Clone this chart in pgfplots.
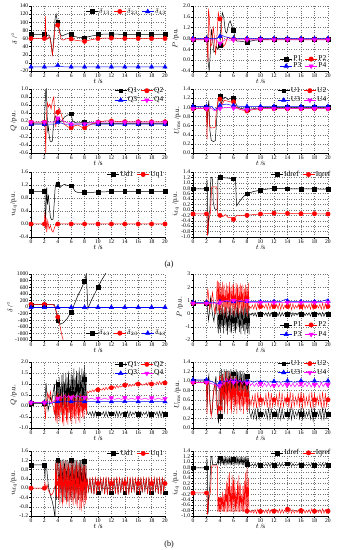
\documentclass[border=0pt]{standalone}
\usepackage{fontspec}
\setmainfont{Liberation Serif}
\usepackage{pgfplots}
\usepackage{pgfplotstable}
\pgfplotsset{compat=1.18}
\definecolor{cR}{RGB}{255,0,0}
\definecolor{cB}{RGB}{0,0,255}
\definecolor{cM}{RGB}{255,0,255}
\pgfplotsset{legend image code/.code={\draw[mark repeat=2,mark phase=2,#1] plot coordinates {(0pt,0pt) (6pt,0pt) (12pt,0pt)};}}
\pgfplotsset{
 base/.style={scale only axis, height=65pt, xmin=0, xmax=20, xtick={0,2,4,6,8,10,12,14,16,18,20},
   axis x line*=bottom, axis y line*=left, grid=major,
   grid style={dotted, black!55, line width=0.35pt},
   tick align=outside, major tick length=1.6pt, minor tick length=1pt,
   minor y tick num=1, minor x tick num=1,
   tick style={black, line width=0.35pt},
   axis line style={line width=0.4pt},
   tick label style={font=\fontsize{5.6}{6}\selectfont, inner sep=1pt},
   label style={font=\fontsize{7}{8}\selectfont},
   xlabel={$t$ /s}, xlabel style={yshift=3pt}, ylabel style={yshift=-2pt},
   /pgf/number format/assume math mode=true,
   /pgf/number format/1000 sep={}, scaled y ticks=false,
   clip mode=individual,
   legend style={draw=none, fill=none, font=\fontsize{7.5}{8}\selectfont, inner sep=0.5pt,
     nodes={inner sep=1pt},
     /tikz/every even column/.append style={column sep=2.5pt}},
   legend cell align=left,
 },
 L/.style={base, width=134pt},
 R/.style={base, width=135pt},
 D1/.style={y tick label style={/pgf/number format/fixed,/pgf/number format/fixed zerofill,/pgf/number format/precision=1}},
 S1/.style={black, line width=0.5pt, legend image post style={mark=square*, mark size=1.9pt}},
 S2/.style={cR, line width=0.5pt, legend image post style={mark=*, mark size=2.2pt}},
 S3/.style={cB, line width=0.5pt, legend image post style={mark=triangle*, mark size=2.5pt}},
 S4/.style={cM, line width=0.5pt, legend image post style={mark=triangle*, mark size=2.5pt, mark options={rotate=180}}},
 M1/.style={black, only marks, mark=square*, mark size=1.9pt, forget plot},
 M2/.style={cR, only marks, mark=*, mark size=2.2pt, forget plot},
 M3/.style={cB, only marks, mark=triangle*, mark size=2.5pt, forget plot},
 M4/.style={cM, only marks, mark=triangle*, mark size=2.5pt, mark options={rotate=180}, forget plot},
 O/.style={line width=0.4pt},
}
\pgfplotstableread{
t P1 P2 Q1 Q2 U1 U2 Ud Uq Id Iq
4.0 0.6 2.3 1.0 0.6 1.2 1.0 1.2 1.1 1.15 -0.4
4.1 -1.4 0.3 -0.3 -0.5 0.15 0.4 -0.5 -0.5 0.9 -0.85
4.2 0.4 2.0 1.3 0.3 1.25 1.1 1.15 0.9 1.12 -0.3
4.3 -1.0 -0.2 0.0 -0.7 0.4 0.3 -0.2 -0.7 0.95 -0.86
4.4 0.7 2.4 0.9 0.5 1.15 1.15 1.22 1.2 1.17 -0.1
4.5 -1.5 0.5 -0.4 -0.3 0.6 0.6 -0.6 -0.3 0.88 -0.84
4.6 0.3 2.2 1.4 0.6 1.25 1.0 1.2 1.0 1.14 -0.2
4.7 -0.9 0.0 -0.1 -0.8 0.3 0.35 -0.3 -0.8 0.93 -0.85
4.8 0.5 1.8 1.5 0.2 1.2 1.2 1.25 1.15 1.16 0.0
4.9 -1.3 -0.3 -0.3 -0.9 0.7 0.5 -0.4 -0.6 0.9 -0.87
5.0 0.6 2.3 1.1 0.5 1.25 1.1 1.18 0.95 1.12 0.3
5.1 -1.6 0.4 0.1 -0.4 0.5 0.3 -0.5 -0.4 0.95 -0.85
5.2 0.2 2.1 1.5 0.55 1.22 1.2 1.2 1.2 1.18 0.5
5.3 -1.1 0.1 -0.2 -0.75 0.8 0.55 -0.2 -0.7 0.9 -0.84
5.4 0.5 2.4 1.3 0.3 1.18 1.05 1.22 1.05 1.15 0.6
5.5 -1.4 -0.1 0.0 -0.85 0.6 0.4 -0.6 -0.55 0.92 -0.86
5.6 0.7 2.0 1.6 0.6 1.25 1.15 1.15 1.1 1.13 0.1
5.7 -1.5 0.6 -0.3 -0.3 0.7 0.3 -0.3 -0.8 0.88 -0.85
5.8 0.4 2.2 1.2 0.4 1.2 1.0 1.2 0.9 1.17 0.5
5.9 -1.0 0.0 0.1 -0.7 0.75 0.5 -0.4 -0.5 0.94 -0.85
6.0 0.3 2.3 1.5 0.5 1.23 1.1 1.25 1.15 1.15 0.4
6.1 -1.3 -0.2 -0.2 -0.8 0.55 0.35 -0.5 -0.6 0.9 -0.87
6.2 0.6 1.9 1.4 0.3 1.15 0.95 1.2 1.0 1.12 0.35
6.3 -1.5 0.3 0.0 -0.5 0.8 0.45 -0.3 -0.75 0.95 -0.84
6.4 0.5 2.3 1.7 0.55 1.25 1.1 1.18 1.1 1.16 -0.1
6.5 -1.2 0.1 -0.3 -0.6 0.7 0.3 -0.4 -0.45 0.89 -0.85
6.6 0.7 2.2 1.3 0.45 1.2 1.0 1.22 0.95 1.14 0.3
6.7 -1.0 -0.2 0.2 -0.8 0.65 0.5 -0.6 -0.7 0.92 -0.86
6.8 0.4 2.0 1.6 0.3 1.18 0.9 1.2 1.15 1.18 0.5
6.9 -1.4 0.4 -0.1 -0.4 0.8 0.4 -0.2 -0.85 0.9 -0.85
7.0 0.3 2.3 1.5 0.5 1.22 1.05 1.15 1.0 1.13 0.2
7.1 -1.55 0.0 0.0 -0.65 0.75 0.35 -0.5 -0.5 0.94 -0.84
7.2 0.6 2.1 1.75 0.4 1.15 0.95 1.2 1.1 1.15 -0.2
7.3 -1.1 0.2 -0.2 -0.75 0.6 0.45 -0.3 -0.95 0.88 -0.86
7.4 0.5 2.2 1.4 0.55 1.2 1.0 1.22 0.9 1.17 0.1
7.5 -1.3 -0.1 0.1 -0.3 0.8 0.3 -0.4 -1.0 0.92 -0.85
7.6 0.4 1.9 1.7 0.3 1.17 0.9 1.18 1.05 1.12 0.3
7.7 -1.6 0.3 0.0 -0.5 0.7 0.5 -0.5 -0.6 0.9 -0.85
7.8 0.7 2.2 1.6 0.5 1.12 0.95 1.2 1.0 1.16 0.6
7.9 -1.2 0.1 -0.2 -0.6 0.75 0.4 -0.3 -0.8 0.95 -0.87
8.0 0.5 2.1 1.85 0.45 1.15 0.85 1.15 0.95 1.14 0.8
8.1 -1.5 -0.2 0.1 -0.2 0.65 0.35 -0.4 -0.7 0.88 -0.85
8.2 0.6 2.3 1.5 0.4 1.1 0.9 1.18 1.0 1.15 0.4
8.3 -1.6 0.2 -0.1 -0.4 0.8 0.45 -0.2 -0.5 0.87 -0.84
8.4 0.02 0.55 -0.30 0.66 0.32 0.62 0.38 0.42 0.90 -0.80
8.6 -0.12 0.40 -0.40 0.60 0.22 0.48 -0.15 -0.10 0.85 -0.88
8.8 0.05 0.65 -0.27 0.70 0.36 0.68 0.42 0.46 0.92 -0.78
9.0 -0.18 0.35 -0.45 0.62 0.20 0.45 -0.22 -0.20 0.84 -0.89
9.2 0.08 0.75 -0.25 0.74 0.40 0.74 0.44 0.48 0.94 -0.76
9.4 -0.22 0.30 -0.48 0.64 0.18 0.42 -0.26 -0.28 0.83 -0.90
9.6 0.10 0.78 -0.24 0.76 0.42 0.76 0.45 0.50 0.95 -0.75
9.8 -0.20 0.32 -0.47 0.66 0.19 0.43 -0.25 -0.26 0.84 -0.90
10.0 0.06 0.70 -0.27 0.74 0.37 0.70 0.42 0.46 0.92 -0.78
10.2 -0.14 0.38 -0.42 0.70 0.22 0.47 -0.18 -0.15 0.85 -0.88
10.4 0.03 0.60 -0.30 0.76 0.33 0.64 0.39 0.43 0.90 -0.80
10.6 -0.12 0.42 -0.40 0.72 0.24 0.49 -0.14 -0.10 0.86 -0.87
10.8 0.07 0.72 -0.26 0.82 0.38 0.72 0.43 0.47 0.93 -0.77
11.0 -0.20 0.33 -0.47 0.72 0.19 0.43 -0.25 -0.27 0.84 -0.90
11.2 0.10 0.78 -0.24 0.86 0.42 0.77 0.45 0.50 0.95 -0.74
11.4 -0.22 0.30 -0.49 0.74 0.18 0.41 -0.27 -0.29 0.83 -0.90
11.6 0.08 0.74 -0.25 0.84 0.40 0.74 0.44 0.48 0.94 -0.76
11.8 -0.16 0.36 -0.44 0.78 0.21 0.45 -0.20 -0.18 0.85 -0.89
12.0 0.04 0.62 -0.29 0.86 0.34 0.66 0.40 0.44 0.91 -0.79
12.2 -0.12 0.42 -0.40 0.80 0.24 0.49 -0.14 -0.10 0.86 -0.87
12.4 0.06 0.70 -0.27 0.90 0.37 0.70 0.42 0.46 0.92 -0.77
12.6 -0.19 0.34 -0.46 0.80 0.20 0.44 -0.24 -0.24 0.84 -0.89
12.8 0.10 0.78 -0.24 0.94 0.42 0.77 0.45 0.50 0.95 -0.74
13.0 -0.22 0.30 -0.49 0.82 0.18 0.41 -0.27 -0.29 0.83 -0.90
13.2 0.09 0.76 -0.25 0.92 0.41 0.75 0.44 0.49 0.94 -0.75
13.4 -0.17 0.36 -0.44 0.86 0.21 0.45 -0.21 -0.18 0.85 -0.89
13.6 0.04 0.62 -0.29 0.92 0.34 0.66 0.40 0.44 0.91 -0.78
13.8 -0.12 0.42 -0.40 0.88 0.24 0.49 -0.14 -0.10 0.86 -0.87
14.0 0.07 0.72 -0.26 1.00 0.38 0.72 0.43 0.47 0.97 -0.72
14.2 -0.20 0.33 -0.47 0.88 0.19 0.43 -0.25 -0.26 0.84 -0.89
14.4 0.10 0.78 -0.24 1.02 0.42 0.77 0.45 0.50 0.96 -0.73
14.6 -0.22 0.30 -0.49 0.88 0.18 0.41 -0.27 -0.29 0.83 -0.90
14.8 0.08 0.74 -0.25 0.98 0.40 0.74 0.44 0.48 0.94 -0.76
15.0 -0.16 0.37 -0.44 0.90 0.21 0.46 -0.20 -0.17 0.85 -0.89
15.2 0.04 0.62 -0.29 0.98 0.34 0.66 0.40 0.44 0.91 -0.79
15.4 -0.12 0.42 -0.40 0.92 0.24 0.49 -0.14 -0.10 0.86 -0.87
15.6 0.07 0.72 -0.26 1.04 0.38 0.72 0.43 0.47 0.93 -0.77
15.8 -0.20 0.33 -0.47 0.92 0.19 0.43 -0.25 -0.26 0.84 -0.90
16.0 0.10 0.78 -0.24 1.06 0.42 0.77 0.45 0.50 0.95 -0.74
16.2 -0.22 0.30 -0.49 0.92 0.18 0.41 -0.27 -0.29 0.83 -0.90
16.4 0.08 0.74 -0.25 1.02 0.40 0.74 0.44 0.48 0.94 -0.76
16.6 -0.16 0.37 -0.44 0.94 0.21 0.46 -0.20 -0.17 0.85 -0.89
16.8 0.04 0.62 -0.29 1.00 0.34 0.66 0.40 0.44 0.91 -0.79
17.0 -0.12 0.42 -0.40 0.95 0.24 0.49 -0.14 -0.10 0.86 -0.87
17.2 0.07 0.72 -0.26 1.06 0.38 0.72 0.43 0.47 0.93 -0.76
17.4 -0.20 0.33 -0.47 0.94 0.19 0.43 -0.25 -0.26 0.84 -0.90
17.6 0.10 0.78 -0.24 1.08 0.42 0.77 0.45 0.50 0.95 -0.73
17.8 -0.22 0.30 -0.49 0.94 0.15 0.41 -0.27 -0.29 0.83 -0.90
18.0 0.08 0.74 -0.25 1.04 0.40 0.74 0.44 0.48 0.94 -0.76
18.2 -0.16 0.37 -0.44 0.96 0.21 0.46 -0.20 -0.17 0.85 -0.89
18.4 0.04 0.62 -0.29 1.02 0.34 0.66 0.40 0.44 0.91 -0.79
18.6 -0.12 0.42 -0.40 0.98 0.24 0.49 -0.14 -0.10 0.86 -0.87
18.8 0.07 0.72 -0.26 1.10 0.38 0.72 0.43 0.47 0.93 -0.76
19.0 -0.20 0.33 -0.47 0.98 0.19 0.43 -0.25 -0.26 0.84 -0.90
19.2 0.10 0.78 -0.24 1.12 0.42 0.77 0.45 0.50 0.95 -0.73
19.4 -0.22 0.30 -0.49 0.98 0.18 0.41 -0.27 -0.29 0.83 -0.90
19.6 0.08 0.74 -0.25 1.10 0.40 0.74 0.44 0.48 0.94 -0.76
19.8 -0.16 0.37 -0.44 1.00 0.21 0.46 -0.20 -0.17 0.85 -0.89
20.0 0.04 0.62 -0.29 1.08 0.34 0.66 0.40 0.44 0.91 -0.79
}\osc
\begin{document}
\begin{tikzpicture}
\path[use as bounding box] (0,0) rectangle (342pt,550pt);
% ===== (a) row 1 left: delta
\begin{axis}[L, at={(31pt,479pt)}, anchor=south west, ymin=-20, ymax=140, ytick={-20,0,20,40,60,80,100,120,140},
  ylabel={$\delta$ /$^{\circ}$}, legend columns=3, legend style={at={(1.02,0.99)}, anchor=north east}]
\addplot[S1] coordinates {(0,70)(2,70)(2.1,72)(2.2,68)(2.4,67)(2.6,69)(2.8,66)(3.0,50)(3.2,18)(3.4,60)(3.6,110)(3.75,120)(3.9,105)(4.0,100)(4.2,85)(4.4,70)(4.6,66)(5.0,69)(5.5,72)(6.0,70)(6.5,65)(7,63)(8,62)(9,66)(10,69)(11,71)(12,71)(14,70)(20,70)};
\addlegendentry{$\delta_{13}$}
\addplot[M1] coordinates {(0,70)(2,70)(4,100)(6,70)(8,62)(10,70)(12,71)(14,70)(16,70)(18,70)(20,70)};
\addplot[S2] coordinates {(0,60)(2,60)(2.1,62)(2.15,115)(2.25,60)(2.4,58)(2.6,64)(2.8,62)(3.0,45)(3.2,20)(3.4,50)(3.6,90)(3.8,97)(4.0,93)(4.2,80)(4.5,58)(4.8,56)(5.2,59)(5.6,60)(6,59)(6.5,56)(7,55)(8,53)(9,57)(10,60)(11,61)(12,61)(14,60)(20,60)};
\addlegendentry{$\delta_{23}$}
\addplot[M2] coordinates {(0,60)(2,60)(4,93)(6,59)(8,53)(10,60)(12,61)(14,60)(16,60)(18,60)(20,60)};
\addplot[S3] coordinates {(0,-10)(3.5,-10)(3.8,-6)(4,-5)(4.3,-8)(5,-10)(20,-10)};
\addlegendentry{$\delta_{43}$}
\addplot[M3] coordinates {(0,-10)(2,-10)(4,-6)(6,-10)(8,-10)(10,-10)(12,-10)(14,-10)(16,-10)(18,-10)(20,-10)};
\end{axis}
% ===== (a) row 1 right: P
\begin{axis}[R, D1, at={(193pt,479pt)}, anchor=south west, ymin=-0.4, ymax=2.0, ytick={-0.4,0,0.4,0.8,1.2,1.6,2.0},
  ylabel={$P$ /p.u.}, legend columns=2, legend style={at={(1,0)}, anchor=south east, /tikz/row sep=-1.5pt}]
\addplot[S1] coordinates {(0,0.78)(2,0.78)(2.1,0.9)(2.25,-0.1)(2.4,-0.4)(2.55,0.2)(2.75,1.15)(2.9,0.8)(3.1,0.3)(3.3,0.35)(3.5,0.5)(3.7,0.4)(3.9,0.55)(4.0,0.6)(4.15,1.3)(4.35,1.75)(4.55,1.6)(4.8,1.05)(5.0,1.0)(5.3,1.35)(5.5,1.45)(5.7,1.3)(6.0,1.12)(6.2,0.85)(6.5,0.7)(7,0.7)(7.5,0.68)(8,0.65)(8.5,0.7)(9,0.73)(10,0.76)(12,0.78)(20,0.78)};
\addlegendentry{P1}
\addplot[M1] coordinates {(0,0.78)(2,0.78)(4,0.55)(6,1.12)(8,0.65)(10,0.76)(12,0.78)(14,0.78)(16,0.78)(18,0.78)(20,0.78)};
\addplot[S2] coordinates {(0,0.78)(2,0.78)(2.15,0.3)(2.22,-0.05)(2.3,1.9)(2.45,1.5)(2.6,0.5)(2.8,0.6)(3.0,1.25)(3.15,0.9)(3.35,0.2)(3.55,0.9)(3.75,1.75)(3.95,1.5)(4.1,1.6)(4.3,0.9)(4.5,0.5)(4.8,0.6)(5.1,0.85)(5.5,0.8)(6,0.78)(20,0.78)};
\addlegendentry{P2}
\addplot[M2] coordinates {(0,0.78)(2,0.78)(4,1.52)(6,0.78)(8,0.78)(10,0.78)(12,0.78)(14,0.78)(16,0.78)(18,0.78)(20,0.78)};
\addplot[S3] coordinates {(0,0.8)(3.5,0.8)(3.8,0.85)(4.2,0.92)(4.6,0.88)(5,0.85)(5.5,0.82)(6,0.8)(20,0.8)};
\addlegendentry{P3}
\addplot[M3] coordinates {(0,0.8)(2,0.8)(4,0.88)(6,0.8)(8,0.8)(10,0.8)(12,0.8)(14,0.8)(16,0.8)(18,0.8)(20,0.8)};
\addplot[S4] coordinates {(0,0.75)(3.5,0.75)(3.8,0.65)(4,0.62)(4.3,0.68)(4.8,0.76)(5.5,0.74)(6,0.75)(20,0.75)};
\addlegendentry{P4}
\addplot[M4] coordinates {(0,0.75)(2,0.75)(4,0.62)(6,0.75)(8,0.75)(10,0.75)(12,0.75)(14,0.75)(16,0.75)(18,0.75)(20,0.75)};
\end{axis}
% ===== (a) row 2 left: Q
\begin{axis}[L, D1, at={(31pt,397pt)}, anchor=south west, height=64pt, ymin=-0.6, ymax=1.0, ytick={-0.6,-0.4,-0.2,0,0.2,0.4,0.6,0.8,1.0},
  ylabel={$Q$ /p.u.}, legend columns=2, legend style={at={(1,1.05)}, anchor=north east, /tikz/row sep=1pt}]
\addplot[S1] coordinates {(0,0.13)(2,0.13)(2.1,0.6)(2.2,0.95)(2.3,1.0)(2.4,0.4)(2.5,-0.05)(2.6,0.05)(2.7,-0.15)(2.85,-0.3)(3.0,-0.32)(3.2,-0.3)(3.3,0.0)(3.45,0.2)(3.6,0.33)(3.8,0.25)(4.0,0.22)(4.3,0.18)(4.6,0.2)(5.0,0.3)(5.5,0.35)(6.0,0.38)(6.2,0.2)(6.6,0.16)(7,0.15)(8,0.17)(9,0.15)(10,0.14)(20,0.14)};
\addlegendentry{Q1}
\addplot[M1] coordinates {(0,0.13)(2,0.13)(4,0.22)(6,0.38)(8,0.17)(10,0.14)(12,0.14)(14,0.14)(16,0.14)(18,0.14)(20,0.14)};
\addplot[S2] coordinates {(0,0.17)(2,0.17)(2.1,0.1)(2.2,-0.6)(2.3,0.3)(2.45,0.65)(2.6,0.55)(2.8,0.62)(3.0,0.5)(3.2,0.7)(3.4,0.8)(3.55,0.35)(3.7,0.05)(3.85,0.3)(4.0,0.42)(4.2,0.52)(4.4,0.45)(4.7,0.25)(5.0,0.12)(5.5,0.05)(6.0,0.03)(6.5,0.08)(7,0.1)(7.5,0.05)(8,0.03)(9,0.12)(10,0.17)(11,0.2)(12,0.2)(14,0.18)(20,0.18)};
\addlegendentry{Q2}
\addplot[M2] coordinates {(0,0.17)(2,0.17)(4,0.42)(6,0.03)(8,0.03)(10,0.17)(12,0.2)(14,0.18)(16,0.18)(18,0.18)(20,0.18)};
\addplot[S3] coordinates {(0,0.12)(3.5,0.12)(4,0.17)(4.5,0.15)(5,0.12)(20,0.12)};
\addlegendentry{Q3}
\addplot[M3] coordinates {(0,0.12)(2,0.12)(4,0.17)(6,0.12)(8,0.12)(10,0.12)(12,0.12)(14,0.12)(16,0.12)(18,0.12)(20,0.12)};
\addplot[S4] coordinates {(0,0.17)(3.5,0.17)(4,0.27)(4.5,0.22)(5.5,0.15)(6,0.12)(7,0.13)(8,0.13)(9,0.16)(10,0.17)(20,0.17)};
\addlegendentry{Q4}
\addplot[M4] coordinates {(0,0.17)(2,0.17)(4,0.27)(6,0.12)(8,0.13)(10,0.17)(12,0.17)(14,0.17)(16,0.17)(18,0.17)(20,0.17)};
\end{axis}
% ===== (a) row 2 right: U
\begin{axis}[R, D1, at={(193pt,397pt)}, anchor=south west, height=64pt, ymin=0, ymax=1.4, ytick={0,0.2,0.4,0.6,0.8,1.0,1.2,1.4},
  ylabel={$U_{\mathrm{rms}}$ /p.u.}, legend columns=2, legend style={at={(1,1.05)}, anchor=north east, /tikz/row sep=1pt}]
\addplot[S1] coordinates {(0,1.01)(2,1.01)(2.1,0.6)(2.2,0.95)(2.35,1.15)(2.5,0.5)(2.7,0.28)(3.0,0.25)(3.3,0.27)(3.45,0.6)(3.6,0.95)(3.8,1.25)(4.0,1.22)(4.2,1.08)(4.5,1.2)(4.8,1.22)(5.2,1.17)(5.6,1.2)(6.0,1.2)(6.3,1.1)(6.6,1.0)(7,0.98)(8,0.95)(9,0.97)(10,0.99)(12,1.0)(20,1.0)};
\addlegendentry{U1}
\addplot[M1] coordinates {(0,1.01)(2,1.01)(4,1.24)(6,1.2)(8,0.96)(10,0.99)(12,1.0)(14,1.0)(16,1.0)(18,1.0)(20,1.0)};
\addplot[S2] coordinates {(0,0.97)(2,0.97)(2.08,0.3)(2.15,0.9)(2.3,1.0)(2.45,0.6)(2.6,0.55)(3.0,0.55)(3.3,0.57)(3.45,0.9)(3.7,1.15)(3.85,1.2)(4.0,1.18)(4.3,1.05)(4.6,1.15)(5.0,1.14)(5.5,1.12)(6.0,1.12)(6.4,1.0)(7,0.95)(8,0.92)(9,0.95)(10,0.97)(20,0.97)};
\addlegendentry{U2}
\addplot[M2] coordinates {(0,0.97)(2,0.97)(4,1.18)(6,1.12)(8,0.92)(10,0.97)(12,0.97)(14,0.97)(16,0.97)(18,0.97)(20,0.97)};
\addplot[S3] coordinates {(0,1.02)(2.8,1.02)(3.2,0.95)(3.6,0.98)(4,1.04)(4.5,1.06)(5,1.07)(5.5,1.05)(6,1.04)(7,1.02)(20,1.02)};
\addlegendentry{U3}
\addplot[M3] coordinates {(0,1.02)(2,1.02)(4,1.04)(6,1.04)(8,1.02)(10,1.02)(12,1.02)(14,1.02)(16,1.02)(18,1.02)(20,1.02)};
\addplot[S4] coordinates {(0,0.97)(2.8,0.97)(3.2,0.92)(3.6,0.95)(4,0.97)(5,1.0)(6,0.98)(7,0.96)(8,0.95)(10,0.97)(20,0.97)};
\addlegendentry{U4}
\addplot[M4] coordinates {(0,0.97)(2,0.97)(4,0.97)(6,0.98)(8,0.95)(10,0.97)(12,0.97)(14,0.97)(16,0.97)(18,0.97)(20,0.97)};
\end{axis}
% ===== (a) row 3 left: u_dq
\begin{axis}[L, D1, at={(31pt,313pt)}, anchor=south west, ymin=-0.4, ymax=1.6, ytick={-0.4,0,0.4,0.8,1.2,1.6},
  ylabel={$u_{dq}$/p.u.}, legend columns=2, legend style={at={(1,1.04)}, anchor=north east}]
\addplot[S1] coordinates {(0,1.0)(2,1.0)(2.08,1.1)(2.15,0.0)(2.25,0.5)(2.35,1.12)(2.45,0.6)(2.6,0.9)(2.75,0.5)(2.9,0.2)(3.1,0.13)(3.3,0.15)(3.45,0.6)(3.6,1.1)(3.75,1.25)(4.0,1.22)(4.3,1.12)(4.6,1.18)(5.0,1.22)(5.5,1.18)(6.0,1.18)(6.3,1.1)(6.6,1.0)(7,0.97)(8,0.97)(10,0.98)(12,1.0)(20,1.0)};
\addlegendentry{Ud1}
\addplot[M1] coordinates {(0,1.0)(2,1.0)(4,1.22)(6,1.18)(8,0.97)(10,0.98)(12,1.0)(14,1.0)(16,1.0)(18,1.0)(20,1.0)};
\addplot[S2] coordinates {(0,0)(2,0)(2.08,0.38)(2.15,-0.15)(2.25,0.2)(2.35,-0.25)(2.5,0.1)(2.7,-0.15)(2.9,-0.05)(3.1,-0.2)(3.3,-0.25)(3.5,-0.12)(3.7,-0.02)(4.0,0)(20,0)};
\addlegendentry{Uq1}
\addplot[M2] coordinates {(0,0)(2,0)(4,0)(6,0)(8,0)(10,0)(12,0)(14,0)(16,0)(18,0)(20,0)};
\end{axis}
% ===== (a) row 3 right: i_dq
\begin{axis}[R, D1, at={(193pt,313pt)}, anchor=south west, ymin=-1.0, ymax=1.4, ytick={-1.0,-0.8,-0.6,-0.4,-0.2,0,0.2,0.4,0.6,0.8,1.0,1.2,1.4},
  ylabel={$i_{dq}$ /p.u.}, legend columns=2, legend style={at={(1.03,1.04)}, anchor=north east}]
\addplot[S1] coordinates {(0,0.78)(2,0.78)(2.08,1.1)(2.15,0.2)(2.25,-0.9)(2.35,-0.2)(2.5,0.0)(2.65,1.2)(2.8,1.2)(2.9,1.1)(3.0,0.3)(3.2,0.05)(3.5,0.0)(3.65,0.05)(3.7,1.15)(4.0,1.2)(5,1.18)(6,1.15)(6.3,1.12)(6.45,0.15)(7,0.35)(7.5,0.5)(8,0.6)(9,0.68)(10,0.73)(11,0.77)(12,0.8)(14,0.78)(20,0.77)};
\addlegendentry{Idref}
\addplot[M1] coordinates {(0,0.78)(2,0.78)(4,1.2)(6,1.15)(8,0.6)(10,0.73)(12,0.8)(14,0.78)(16,0.77)(18,0.77)(20,0.77)};
\addplot[S2] coordinates {(0,-0.15)(2,-0.15)(2.08,-0.2)(2.15,-0.95)(2.25,-0.6)(2.4,-0.3)(2.6,-0.1)(2.75,0.85)(3.0,0.85)(3.55,0.85)(3.6,-0.15)(4.0,-0.2)(4.4,-0.25)(4.8,-0.17)(5.2,-0.28)(5.6,-0.27)(6,-0.35)(6.4,-0.22)(7,-0.2)(8,-0.2)(9,-0.17)(10,-0.15)(12,-0.12)(14,-0.13)(20,-0.15)};
\addlegendentry{Iqref}
\addplot[M2] coordinates {(0,-0.15)(2,-0.15)(4,-0.2)(6,-0.35)(8,-0.2)(10,-0.15)(12,-0.12)(14,-0.13)(16,-0.14)(18,-0.14)(20,-0.15)};
\end{axis}
\node[font=\fontsize{8}{9}\selectfont] at (169pt,285pt) {(a)};
% ===== (b) row 1 left: delta
\begin{axis}[L, at={(31pt,210pt)}, anchor=south west, height=66pt, ymin=-1000, ymax=1000, ytick={-1000,-800,-600,-400,-200,0,200,400,600,800,1000},
  ylabel={$\delta$ /$^{\circ}$}, legend columns=3, legend style={at={(1.02,0.03)}, anchor=south east}]
\addplot[S1] coordinates {(0,70)(2,70)(3.5,70)(3.7,-100)(4.0,-400)(4.4,-520)(4.8,-480)(5.4,-350)(6.0,-150)(6.5,100)(7.0,350)(7.5,550)(8.0,780)(8.25,1000)(8.5,-50)(9,200)(9.5,400)(10,600)(10.5,800)(11.1,1000)(11.4,1150)};
\addlegendentry{$\delta_{13}$}
\addplot[M1] coordinates {(0,70)(2,70)(4,-400)(6,-150)(8,780)(10,600)};
\addplot[S2] coordinates {(0,80)(2,80)(2.3,70)(3.3,70)(3.6,0)(4.0,-300)(4.3,-550)(4.6,-850)(4.8,-1000)(4.9,-1100)};
\addlegendentry{$\delta_{23}$}
\addplot[M2] coordinates {(0,80)(2,80)(4,-300)};
\addplot[S3] coordinates {(0,-10)(20,-10)};
\addlegendentry{$\delta_{43}$}
\addplot[M3] coordinates {(0,-10)(2,-10)(4,-10)(6,-10)(8,-10)(10,-10)(12,-10)(14,-10)(16,-10)(18,-10)(20,-10)};
\end{axis}
% ===== (b) row 1 right: P
\begin{axis}[R, at={(193pt,210pt)}, anchor=south west, height=66pt, ymin=-2, ymax=3, ytick={-2,-1,0,1,2,3},
  ylabel={$P$ /p.u.}, legend columns=2, legend style={at={(1,0.01)}, anchor=south east, /tikz/row sep=1pt}]
\addplot[S1, forget plot] coordinates {(0,0.8)(2,0.8)(2.1,0.6)(2.3,-0.5)(2.45,0.2)(2.6,1.2)(2.75,0.6)(2.9,-0.1)(3.1,-0.6)(3.25,0.2)(3.45,0.7)(3.6,-0.3)(3.75,-1.5)(3.85,0.4)(3.95,-1.2)(4.0,0.6)};
\addplot[S1, O] table[x=t, y=P1] {\osc};
\addlegendentry{P1}
\addplot[M1] coordinates {(0,0.8)(2,0.8)(4,-0.3)(6,-0.5)(8,-0.5)(10,-0.05)(12,-0.05)(14,-0.05)(16,-0.05)(18,-0.05)(20,-0.05)};
\addplot[S2, forget plot] coordinates {(0,0.8)(2,0.8)(2.1,1.3)(2.2,1.9)(2.35,1.0)(2.5,0.3)(2.7,0.9)(2.9,1.6)(3.1,0.5)(3.3,0.0)(3.5,1.5)(3.6,2.5)(3.7,0.2)(3.8,2.4)(3.9,0.0)(4.0,2.3)};
\addplot[S2, O] table[x=t, y=P2] {\osc};
\addlegendentry{P2}
\addplot[M2] coordinates {(0,0.8)(2,0.8)(4,1.2)(6,1.2)(8,1.2)(10,0.55)(12,0.55)(14,0.55)(16,0.55)(18,0.55)(20,0.55)};
\addplot[S3] coordinates {(0,0.85)(2,0.85)(2.3,0.8)(2.8,0.88)(3.3,0.82)(3.8,0.75)(4,0.9)(4.5,0.95)(5,0.88)(5.5,0.96)(6,0.9)(6.5,0.97)(7,0.9)(7.5,0.95)(8,0.92)(8.3,0.9)(9,0.92)(10,0.9)(11,0.93)(12,0.9)(13,0.92)(13.8,1.1)(14.2,0.9)(15,0.92)(16,0.9)(17,0.93)(18,0.9)(19,0.92)(19.8,1.05)(20,0.95)};
\addlegendentry{P3}
\addplot[M3] coordinates {(0,0.85)(2,0.85)(4,0.9)(6,0.9)(8,0.92)(10,0.9)(12,0.9)(14,0.95)(16,0.9)(18,0.9)(20,0.95)};
\addplot[S4] coordinates {(0,0.78)(2,0.78)(2.5,0.75)(3,0.8)(3.5,0.78)(3.8,0.7)(4,0.85)(4.5,0.95)(5,1.0)(5.5,0.92)(6,1.0)(6.5,0.95)(7,1.0)(7.5,0.93)(8,0.98)(8.3,0.95)(8.5,0.82)(9,0.85)(10,0.83)(11,0.86)(12,0.84)(13,0.86)(14,0.84)(15,0.86)(16,0.84)(17,0.86)(18,0.84)(19,0.86)(20,0.85)};
\addlegendentry{P4}
\addplot[M4] coordinates {(0,0.78)(2,0.78)(4,0.85)(6,1.0)(8,0.98)(10,0.83)(12,0.84)(14,0.84)(16,0.84)(18,0.84)(20,0.85)};
\end{axis}
% ===== (b) row 2 left: Q
\begin{axis}[L, D1, at={(31pt,122pt)}, anchor=south west, height=66pt, ymin=-1.0, ymax=2.0, ytick={-1.0,-0.5,0,0.5,1.0,1.5,2.0},
  ylabel={$Q$ /p.u.}, legend columns=2, legend style={at={(1,1.04)}, anchor=north east, /tikz/row sep=0.5pt}]
\addplot[S1, forget plot] coordinates {(0,0.12)(2,0.12)(2.1,0.3)(2.25,1.05)(2.4,0.4)(2.55,-0.2)(2.7,0.0)(2.9,0.4)(3.1,0.2)(3.3,0.6)(3.5,1.0)(3.6,0.3)(3.7,-0.5)(3.8,1.2)(3.9,-0.4)(4.0,1.0)};
\addplot[S1, O] table[x=t, y=Q1] {\osc};
\addlegendentry{Q1}
\addplot[M1] coordinates {(0,0.12)(2,0.12)(4,1.0)(6,0.6)(8,1.2)(10,-0.35)(12,-0.35)(14,-0.37)(16,-0.37)(18,-0.37)(20,-0.37)};
\addplot[S2, forget plot] coordinates {(0,0.15)(2,0.15)(2.15,-0.6)(2.3,0.2)(2.5,0.6)(2.7,0.3)(2.9,0.65)(3.1,0.2)(3.3,0.0)(3.5,-0.4)(3.6,0.4)(3.7,-0.7)(3.8,0.5)(3.9,-0.8)(4.0,0.6)};
\addplot[S2, O] table[x=t, y=Q2] {\osc};
\addlegendentry{Q2}
\addplot[M2] coordinates {(0,0.15)(2,0.15)(4,0.2)(6,0.0)(8,0.0)(10,0.74)(12,0.83)(14,0.95)(16,1.0)(18,1.0)(20,1.05)};
\addplot[S3] coordinates {(0,0.15)(2,0.15)(2.5,0.13)(3,0.12)(3.5,0.17)(4,0.2)(5,0.22)(6,0.2)(7,0.22)(8,0.2)(9,0.2)(10,0.2)(12,0.2)(14,0.21)(16,0.2)(18,0.21)(20,0.2)};
\addlegendentry{Q3}
\addplot[M3] coordinates {(0,0.15)(2,0.15)(4,0.2)(6,0.2)(8,0.2)(10,0.2)(12,0.2)(14,0.21)(16,0.2)(18,0.21)(20,0.2)};
\addplot[S4] coordinates {(0,0.15)(2,0.15)(2.5,0.2)(3,0.15)(3.5,0.25)(4,0.35)(4.3,0.45)(4.6,0.35)(5,0.5)(5.3,0.38)(5.6,0.48)(6,0.38)(6.3,0.5)(6.6,0.38)(7,0.48)(7.3,0.36)(7.6,0.46)(8,0.38)(8.3,0.42)(8.6,0.3)(9,0.36)(9.5,0.3)(10,0.35)(10.5,0.3)(11,0.36)(11.5,0.3)(12,0.37)(12.5,0.3)(13,0.36)(13.5,0.3)(14,0.38)(14.5,0.3)(15,0.36)(15.5,0.3)(16,0.37)(16.5,0.3)(17,0.36)(17.5,0.3)(18,0.37)(18.5,0.3)(19,0.36)(19.5,0.3)(20,0.34)};
\addlegendentry{Q4}
\addplot[M4] coordinates {(0,0.15)(2,0.15)(4,0.35)(6,0.38)(8,0.38)(10,0.35)(12,0.37)(14,0.38)(16,0.37)(18,0.37)(20,0.34)};
\end{axis}
% ===== (b) row 2 right: U
\begin{axis}[R, D1, at={(193pt,122pt)}, anchor=south west, height=66pt, ymin=0, ymax=1.4, ytick={0,0.2,0.4,0.6,0.8,1.0,1.2,1.4},
  ylabel={$U_{\mathrm{rms}}$ /p.u.}, legend columns=2, legend style={at={(1,1.05)}, anchor=north east, /tikz/row sep=0.5pt}]
\addplot[S1, forget plot] coordinates {(0,1.0)(2,1.0)(2.1,0.45)(2.2,1.0)(2.35,1.12)(2.5,0.6)(2.65,0.3)(2.8,0.3)(3.0,0.7)(3.2,0.9)(3.4,1.1)(3.55,0.6)(3.7,0.2)(3.8,0.1)(3.9,0.9)(4.0,1.2)};
\addplot[S1, O] table[x=t, y=U1] {\osc};
\addlegendentry{U1}
\addplot[M1] coordinates {(0,1.0)(2,1.0)(4,0.25)(6,1.15)(8,1.1)(10,0.3)(12,0.3)(14,0.3)(16,0.3)(18,0.3)(20,0.3)};
\addplot[S2, forget plot] coordinates {(0,0.97)(2,0.97)(2.08,0.3)(2.15,0.95)(2.3,1.0)(2.45,0.6)(2.7,0.25)(2.9,0.5)(3.1,0.85)(3.3,0.95)(3.5,0.5)(3.65,0.3)(3.8,0.42)(3.9,1.1)(4.0,1.0)};
\addplot[S2, O] table[x=t, y=U2] {\osc};
\addlegendentry{U2}
\addplot[M2] coordinates {(0,0.97)(2,0.97)(4,0.42)(6,0.8)(8,0.7)(10,0.6)(12,0.6)(14,0.6)(16,0.6)(18,0.6)(20,0.6)};
\addplot[S3] coordinates {(0,1.02)(2,1.02)(2.5,1.0)(3,0.97)(3.5,0.93)(3.8,0.88)(4,0.96)(4.5,1.0)(5,0.98)(5.5,1.02)(6,0.98)(6.5,1.02)(7,0.98)(7.5,1.0)(8,0.98)(8.4,1.0)(9,0.97)(9.5,1.0)(10,0.97)(10.5,1.0)(11,0.97)(12,0.99)(13,0.97)(14,1.0)(15,0.97)(16,1.0)(17,0.97)(18,1.0)(19,0.97)(20,1.0)};
\addlegendentry{U3}
\addplot[M3] coordinates {(0,1.02)(2,1.02)(4,0.96)(6,0.98)(8,0.98)(10,0.97)(12,0.99)(14,1.0)(16,1.0)(18,1.0)(20,1.0)};
\addplot[S4] coordinates {(0,0.97)(2,0.97)(2.5,0.95)(3,0.93)(3.5,0.9)(3.8,0.84)(4,0.9)(4.3,1.0)(4.6,0.92)(5,1.05)(5.3,0.95)(5.6,1.05)(6,0.97)(6.3,1.05)(6.6,0.95)(7,1.02)(7.3,0.93)(7.6,1.0)(8,0.95)(8.3,1.0)(8.5,0.9)(8.8,0.95)(9.1,0.88)(9.4,0.95)(9.7,0.88)(10,0.94)(10.3,0.87)(10.6,0.95)(10.9,0.88)(11.2,0.95)(11.5,0.87)(11.8,0.94)(12.1,0.88)(12.4,0.96)(12.7,0.87)(13,0.95)(13.3,0.88)(13.6,0.95)(13.9,0.86)(14.2,0.96)(14.5,0.88)(14.8,0.95)(15.1,0.87)(15.4,0.95)(15.7,0.88)(16,0.94)(16.3,0.87)(16.6,0.95)(16.9,0.88)(17.2,0.96)(17.5,0.87)(17.8,0.95)(18.1,0.88)(18.4,0.95)(18.7,0.86)(19,0.96)(19.3,0.88)(19.6,0.95)(19.9,0.87)(20,0.92)};
\addlegendentry{U4}
\addplot[M4] coordinates {(0,0.97)(2,0.97)(4,0.9)(6,0.97)(8,0.95)(10,0.94)(12,0.9)(14,0.92)(16,0.94)(18,0.92)(20,0.92)};
\end{axis}
% ===== (b) row 3 left: u_dq
\begin{axis}[L, D1, at={(31pt,34pt)}, anchor=south west, ymin=-1.2, ymax=1.6, ytick={-1.2,-0.8,-0.4,0,0.4,0.8,1.2,1.6},
  ylabel={$u_{dq}$/p.u.}, legend columns=2, legend style={at={(1,1.04)}, anchor=north east}]
\addplot[S1, forget plot] coordinates {(0,1.0)(2,1.0)(2.08,0.4)(2.15,1.0)(2.3,1.05)(2.45,0.5)(2.6,0.1)(2.8,-0.2)(3.0,-0.4)(3.2,-0.6)(3.4,-0.9)(3.55,-1.2)(3.6,-1.3)(3.7,1.2)(3.8,-0.5)(3.9,1.15)(4.0,1.2)};
\addplot[S1, O] table[x=t, y=Ud] {\osc};
\addlegendentry{Ud1}
\addplot[M1] coordinates {(0,1.0)(2,1.0)(4,1.2)(6,1.2)(8,1.15)(10,-0.2)(12,-0.2)(14,-0.2)(16,-0.2)(18,-0.2)(20,-0.2)};
\addplot[S2, forget plot] coordinates {(0,0)(2,0)(2.08,0.25)(2.2,-0.05)(2.4,0.15)(2.6,-0.1)(2.8,-0.2)(3.0,-0.3)(3.2,-0.25)(3.4,-0.1)(3.6,0.1)(3.7,1.1)(3.8,-0.4)(3.9,1.0)(4.0,1.1)};
\addplot[S2, O] table[x=t, y=Uq] {\osc};
\addlegendentry{Uq1}
\addplot[M2] coordinates {(0,0)(2,0)(4,0.2)(6,0.2)(8,0.2)(10,0.2)(12,0.2)(14,0.2)(16,0.2)(18,0.2)(20,0.2)};
\end{axis}
% ===== (b) row 3 right: i_dq
\begin{axis}[R, D1, at={(193pt,34pt)}, anchor=south west, ymin=-1.0, ymax=1.4, ytick={-1.0,-0.8,-0.6,-0.4,-0.2,0,0.2,0.4,0.6,0.8,1.0,1.2,1.4},
  ylabel={$i_{dq}$ /p.u.}, legend columns=2, legend style={at={(1.03,1.05)}, anchor=north east}]
\addplot[S1, forget plot] coordinates {(0,0.78)(2,0.78)(2.08,1.1)(2.15,0.2)(2.25,-0.9)(2.35,-0.2)(2.5,0.1)(2.65,1.2)(2.8,1.2)(2.9,0.9)(3.2,0.9)(3.5,0.9)(3.65,1.0)(3.7,1.15)(3.8,0.9)(3.9,1.15)(4.0,1.15)};
\addplot[S1, O] table[x=t, y=Id] {\osc};
\addlegendentry{Idref}
\addplot[M1] coordinates {(0,0.78)(2,0.78)(4,1.15)(6,1.1)(8,0.9)(10,0.87)(12,0.87)(14,0.93)(16,0.87)(18,0.87)(20,0.87)};
\addplot[S2, forget plot] coordinates {(0,-0.15)(2,-0.15)(2.08,-0.2)(2.15,-0.95)(2.25,-0.6)(2.4,-0.3)(2.6,-0.1)(2.75,0.85)(3.0,0.85)(3.6,0.85)(3.7,-0.85)(3.8,-0.3)(3.9,-0.85)(4.0,-0.4)};
\addplot[S2, O] table[x=t, y=Iq] {\osc};
\addlegendentry{Iqref}
\addplot[M2] coordinates {(0,-0.15)(2,-0.15)(4,-0.4)(6,-0.3)(8,-0.82)(10,-0.83)(12,-0.82)(14,-0.75)(16,-0.8)(18,-0.82)(20,-0.82)};
\end{axis}
\node[font=\fontsize{8}{9}\selectfont] at (169pt,5pt) {(b)};
\end{tikzpicture}
\end{document}
